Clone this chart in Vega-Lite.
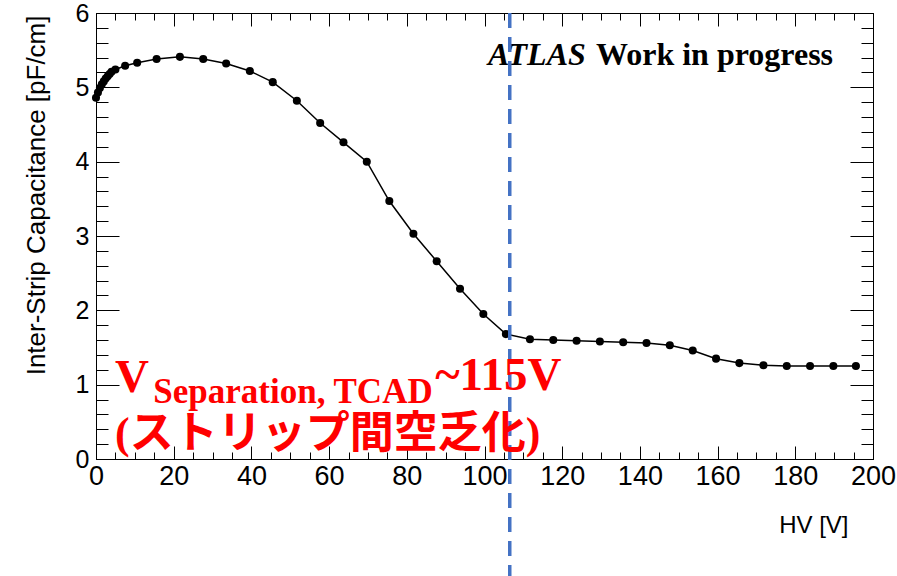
{
  "$schema": "https://vega.github.io/schema/vega-lite/v6.json",
  "width": 777,
  "height": 446,
  "autosize": {"type": "none"},
  "padding": {"left": 96, "top": 13, "right": 24, "bottom": 117},
  "background": "white",
  "config": {
    "view": {"stroke": "black", "strokeWidth": 1},
    "axis": {"domainColor": "black", "tickColor": "black", "labelColor": "black", "grid": false, "tickWidth": 1, "domainWidth": 1}
  },
  "datasets": {
    "curve": [
      {"HV": 0, "C": 4.86}, {"HV": 0.5, "C": 4.93}, {"HV": 1, "C": 4.99}, {"HV": 1.5, "C": 5.04},
      {"HV": 2, "C": 5.08}, {"HV": 2.5, "C": 5.12}, {"HV": 3, "C": 5.15}, {"HV": 3.5, "C": 5.18},
      {"HV": 4, "C": 5.21}, {"HV": 5, "C": 5.24}, {"HV": 7.5, "C": 5.29}, {"HV": 10.6, "C": 5.33},
      {"HV": 15.6, "C": 5.38}, {"HV": 21.6, "C": 5.41}, {"HV": 27.6, "C": 5.38}, {"HV": 33.5, "C": 5.32},
      {"HV": 39.6, "C": 5.22}, {"HV": 45.5, "C": 5.07}, {"HV": 51.7, "C": 4.82}, {"HV": 57.7, "C": 4.52},
      {"HV": 63.7, "C": 4.26}, {"HV": 69.7, "C": 4.0}, {"HV": 75.5, "C": 3.47}, {"HV": 81.7, "C": 3.03},
      {"HV": 87.7, "C": 2.66}, {"HV": 93.7, "C": 2.29}, {"HV": 99.7, "C": 1.95}, {"HV": 105.5, "C": 1.68},
      {"HV": 111.7, "C": 1.61}, {"HV": 117.7, "C": 1.6}, {"HV": 123.7, "C": 1.59}, {"HV": 129.7, "C": 1.58},
      {"HV": 135.7, "C": 1.57}, {"HV": 141.7, "C": 1.56}, {"HV": 147.7, "C": 1.53}, {"HV": 153.6, "C": 1.46},
      {"HV": 159.6, "C": 1.35}, {"HV": 165.6, "C": 1.29}, {"HV": 171.8, "C": 1.26}, {"HV": 177.8, "C": 1.25},
      {"HV": 183.8, "C": 1.25}, {"HV": 189.8, "C": 1.25}, {"HV": 195.6, "C": 1.25}
    ]
  },
  "resolve": {"axis": {"x": "independent", "y": "independent"}},
  "layer": [
    {
      "data": {"name": "curve"},
      "mark": {"type": "line", "color": "black", "strokeWidth": 1.5},
      "encoding": {
        "x": {
          "field": "HV", "type": "quantitative",
          "scale": {"domain": [0, 200], "nice": false, "zero": false},
          "axis": {
            "orient": "bottom",
            "values": [0,5,10,15,20,25,30,35,40,45,50,55,60,65,70,75,80,85,90,95,100,105,110,115,120,125,130,135,140,145,150,155,160,165,170,175,180,185,190,195,200],
            "labelExpr": "datum.value % 20 === 0 ? format(datum.value, 'd') : ''",
            "tickSize": {"condition": {"test": "datum.value % 20 === 0", "value": -13}, "value": -7},
            "labelPadding": 17,
            "labelFont": "Liberation Sans Narrow, Liberation Sans", "labelFontSize": 27,
            "labelOverlap": false, "labelFlush": false,
            "title": "HV [V]", "titleFont": "Liberation Sans Narrow, Liberation Sans", "titleFontWeight": "normal", "titleFontSize": 24,
            "titleColor": "black",
            "titleX": 752, "titleY": 73, "titleAlign": "right", "titleBaseline": "alphabetic", "titleAnchor": null
          }
        },
        "y": {
          "field": "C", "type": "quantitative",
          "scale": {"domain": [0, 6], "nice": false, "zero": false},
          "axis": {
            "orient": "left",
            "values": [0,0.2,0.4,0.6,0.8,1,1.2,1.4,1.6,1.8,2,2.2,2.4,2.6,2.8,3,3.2,3.4,3.6,3.8,4,4.2,4.4,4.6,4.8,5,5.2,5.4,5.6,5.8,6],
            "labelExpr": "abs(datum.value - round(datum.value)) < 0.001 ? format(datum.value, 'd') : ''",
            "tickSize": {"condition": {"test": "abs(datum.value - round(datum.value)) < 0.001", "value": -23}, "value": -12},
            "labelPadding": 30,
            "labelFont": "Liberation Sans Narrow, Liberation Sans", "labelFontSize": 25,
            "labelOverlap": false, "labelFlush": false,
            "title": "Inter-Strip Capacitance [pF/cm]", "titleFont": "Liberation Sans", "titleFontWeight": "normal", "titleFontSize": 26,
            "titleColor": "black",
            "titleX": -52, "titleY": 2, "titleAngle": 270, "titleAlign": "right", "titleBaseline": "alphabetic", "titleAnchor": null
          }
        }
      }
    },
    {
      "data": {"name": "curve"},
      "mark": {"type": "point", "filled": true, "color": "black", "size": 65, "opacity": 1},
      "encoding": {
        "x": {
          "field": "HV", "type": "quantitative",
          "scale": {"domain": [0, 200], "nice": false, "zero": false},
          "axis": {
            "orient": "top",
            "values": [0,5,10,15,20,25,30,35,40,45,50,55,60,65,70,75,80,85,90,95,100,105,110,115,120,125,130,135,140,145,150,155,160,165,170,175,180,185,190,195,200],
            "labels": false, "title": null,
            "tickSize": {"condition": {"test": "datum.value % 20 === 0", "value": -13}, "value": -7}
          }
        },
        "y": {
          "field": "C", "type": "quantitative",
          "scale": {"domain": [0, 6], "nice": false, "zero": false},
          "axis": {
            "orient": "right",
            "values": [0,0.2,0.4,0.6,0.8,1,1.2,1.4,1.6,1.8,2,2.2,2.4,2.6,2.8,3,3.2,3.4,3.6,3.8,4,4.2,4.4,4.6,4.8,5,5.2,5.4,5.6,5.8,6],
            "labels": false, "title": null,
            "tickSize": {"condition": {"test": "abs(datum.value - round(datum.value)) < 0.001", "value": -23}, "value": -12}
          }
        }
      }
    },
    {
      "data": {"values": [{"HV": 100.9, "C": 5.3, "label": "ATLAS"}]},
      "mark": {"type": "text", "font": "Liberation Serif", "fontSize": 32, "fontWeight": "bold", "fontStyle": "italic", "align": "left", "baseline": "alphabetic", "color": "black"},
      "encoding": {
        "x": {"field": "HV", "type": "quantitative", "scale": {"domain": [0, 200]}, "axis": null},
        "y": {"field": "C", "type": "quantitative", "scale": {"domain": [0, 6]}, "axis": null},
        "text": {"field": "label"}
      }
    },
    {
      "data": {"values": [{"HV": 128.7, "C": 5.3, "label": "Work in progress"}]},
      "mark": {"type": "text", "font": "Liberation Serif", "fontSize": 32, "fontWeight": "bold", "align": "left", "baseline": "alphabetic", "color": "black"},
      "encoding": {
        "x": {"field": "HV", "type": "quantitative", "scale": {"domain": [0, 200]}, "axis": null},
        "y": {"field": "C", "type": "quantitative", "scale": {"domain": [0, 6]}, "axis": null},
        "text": {"field": "label"}
      }
    },
    {
      "data": {"values": [{"HV": 106.5, "top": 6, "bottom": -1.575}]},
      "mark": {"type": "rule", "color": "#4472C4", "strokeWidth": 3.5, "strokeDash": [15, 9]},
      "encoding": {
        "x": {"field": "HV", "type": "quantitative", "scale": {"domain": [0, 200]}, "axis": null},
        "y": {"field": "top", "type": "quantitative", "scale": {"domain": [0, 6]}, "axis": null},
        "y2": {"field": "bottom"}
      }
    },
    {
      "data": {"values": [{"HV": 4.9, "C": 0.906, "label": "V"}, {"HV": 87.3, "C": 0.93, "label": "~115V"}]},
      "mark": {"type": "text", "font": "Liberation Serif", "fontSize": 47, "fontWeight": "bold", "align": "left", "baseline": "alphabetic", "color": "#FF0000"},
      "encoding": {
        "x": {"field": "HV", "type": "quantitative", "scale": {"domain": [0, 200]}, "axis": null},
        "y": {"field": "C", "type": "quantitative", "scale": {"domain": [0, 6]}, "axis": null},
        "text": {"field": "label"}
      }
    },
    {
      "data": {"values": [{"HV": 14.75, "C": 0.75, "label": "Separation, TCAD"}]},
      "mark": {"type": "text", "font": "Liberation Serif", "fontSize": 35, "fontWeight": "bold", "align": "left", "baseline": "alphabetic", "color": "#FF0000"},
      "encoding": {
        "x": {"field": "HV", "type": "quantitative", "scale": {"domain": [0, 200]}, "axis": null},
        "y": {"field": "C", "type": "quantitative", "scale": {"domain": [0, 6]}, "axis": null},
        "text": {"field": "label"}
      }
    },
    {
      "data": {"values": [{"HV": 4.9, "C": 0.15, "label": "(ストリップ間空乏化)"}]},
      "mark": {"type": "text", "font": "Liberation Serif, Noto Sans CJK JP", "fontSize": 44, "fontWeight": "bold", "align": "left", "baseline": "alphabetic", "color": "#FF0000"},
      "encoding": {
        "x": {"field": "HV", "type": "quantitative", "scale": {"domain": [0, 200]}, "axis": null},
        "y": {"field": "C", "type": "quantitative", "scale": {"domain": [0, 6]}, "axis": null},
        "text": {"field": "label"}
      }
    }
  ]
}
